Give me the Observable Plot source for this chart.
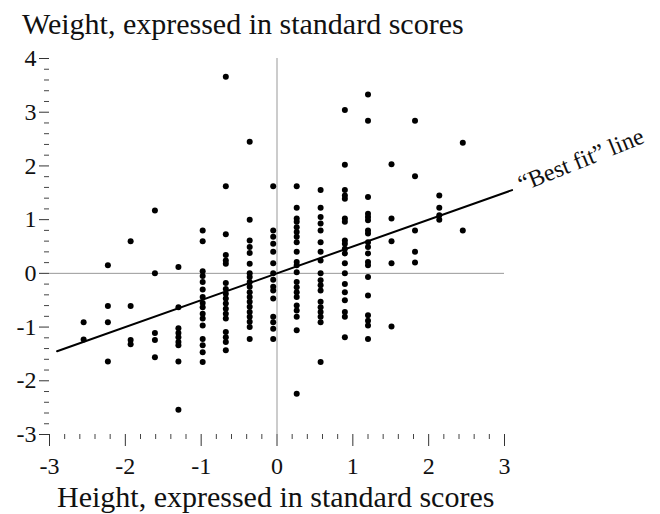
<!DOCTYPE html>
<html><head><meta charset="utf-8">
<script src="https://cdn.jsdelivr.net/npm/d3@7"></script>
<script src="https://cdn.jsdelivr.net/npm/@observablehq/plot@0.6"></script>
<style>
body{margin:0;background:#fff;}
#wrap{width:660px;height:514px;overflow:hidden;font-family:"Liberation Serif","Times New Roman",serif;color:#111;background:#fff;}
#title{height:44px;box-sizing:border-box;padding:9px 0 0 22px;font-size:30px;line-height:30px;white-space:nowrap;}
#xlabel{height:34px;box-sizing:border-box;padding:2px 0 0 57px;font-size:30px;line-height:30px;white-space:nowrap;}
#chart svg{display:block}
</style></head><body>
<div id="wrap">
<div id="title">Weight, expressed in standard scores</div>
<div id="chart"></div>
<div id="xlabel">Height, expressed in standard scores</div>
</div>
<script>
// Height (standard scores) of each column of dots
const heightCols = [-2.55, -2.23, -1.93, -1.61, -1.30, -0.98, -0.675, -0.36, -0.05, 0.26, 0.575, 0.895, 1.20, 1.51, 1.82, 2.14, 2.45];
// Weight (standard scores) of the dots in each column
const weightCols = [
  [-0.91, -1.23],
  [0.15, -0.61, -0.91, -1.64],
  [0.60, -0.61, -1.24, -1.32],
  [1.17, 0.0, -1.11, -1.24, -1.56],
  [0.12, -0.63, -1.02, -1.11, -1.19, -1.28, -1.34, -1.64, -2.54],
  [0.80, 0.60, 0.04, -0.05, -0.16, -0.30, -0.44, -0.55, -0.63, -0.75, -0.84, -0.97, -1.22, -1.34, -1.47, -1.65],
  [3.66, 1.62, 0.73, 0.34, 0.24, 0.18, -0.18, -0.29, -0.38, -0.47, -0.56, -0.66, -0.75, -0.84, -1.09, -1.19, -1.28, -1.43],
  [2.45, 1.0, 0.61, 0.49, 0.38, 0.18, 0.0, -0.07, -0.16, -0.25, -0.35, -0.44, -0.53, -0.62, -0.72, -0.81, -0.90, -1.0, -1.22],
  [1.62, 0.80, 0.68, 0.55, 0.40, 0.19, 0.0, -0.12, -0.25, -0.32, -0.47, -0.81, -0.91, -1.03, -1.22],
  [1.62, 1.22, 1.02, 0.96, 0.86, 0.77, 0.68, 0.58, 0.40, 0.21, 0.15, 0.02, -0.16, -0.26, -0.35, -0.44, -0.60, -0.69, -0.81, -1.06, -2.24],
  [1.55, 1.22, 1.05, 0.93, 0.80, 0.58, 0.40, 0.24, 0.0, -0.13, -0.22, -0.32, -0.53, -0.63, -0.72, -0.81, -0.91, -1.65],
  [3.04, 2.02, 1.55, 1.45, 1.39, 1.02, 0.96, 0.61, 0.55, 0.46, 0.37, 0.19, 0.0, -0.20, -0.35, -0.50, -0.72, -0.81, -1.19],
  [3.33, 2.84, 1.42, 1.11, 1.05, 0.99, 0.80, 0.74, 0.58, 0.49, 0.37, 0.21, 0.15, -0.07, -0.41, -0.78, -0.88, -0.97, -1.22],
  [2.03, 1.02, 0.60, 0.19, -0.99],
  [2.84, 1.81, 0.80, 0.40, 0.20],
  [1.45, 1.22, 1.08, 1.0],
  [2.43, 0.80]
];
// "Best fit" line end points
const fitX = [-2.9, 3.1];
const fitY = [-1.45, 1.55];
const fitLabel = ["\u201cBest fit\u201d line"];
// Tick values
const majorX = [-3, -2, -1, 0, 1, 2, 3];
const majorY = [-3, -2, -1, 0, 1, 2, 3, 4];

const minorX = d3.range(-15, 16).filter(i => i % 5 !== 0).map(i => i / 5);
const minorY = d3.range(-15, 21).filter(i => i % 5 !== 0).map(i => i / 5);

const points = heightCols.flatMap((h, i) => weightCols[i].map(w => ({h, w})));
const fit = fitX.map((x, i) => ({x, y: fitY[i]}));
const fmt = d => d < 0 ? "-" + (-d) : String(d);
const font = "Liberation Serif, Times New Roman, serif";

const chart = Plot.plot({
  width: 660,
  height: 436,
  marginTop: 14,
  marginBottom: 46,
  marginLeft: 49,
  marginRight: 156,
  x: {domain: [-3, 3]},
  y: {domain: [-3, 4]},
  style: {fontFamily: font, background: "#fff", color: "#111", overflow: "visible"},
  marks: [
    Plot.ruleY([0], {x1: -3, x2: 3, stroke: "#999", strokeWidth: 1}),
    Plot.ruleX([0], {y1: -3, y2: 4, stroke: "#999", strokeWidth: 1}),
    Plot.axisX(minorX, {anchor: "bottom", tickSize: 5, text: null, label: null, stroke: "#444"}),
    Plot.axisX(majorX, {anchor: "bottom", tickSize: 12, tickPadding: 10, label: null, tickFormat: fmt, fontSize: 24, fontFamily: font, stroke: "#333"}),
    Plot.axisY(minorY, {anchor: "left", tickSize: 5, text: null, label: null, stroke: "#444"}),
    Plot.axisY(majorY, {anchor: "left", tickSize: 10, tickPadding: 3, label: null, tickFormat: fmt, fontSize: 24, fontFamily: font, stroke: "#333"}),
    Plot.line(fit, {x: "x", y: "y", stroke: "#000", strokeWidth: 2}),
    Plot.dot(points, {x: "h", y: "w", r: 3, fill: "#000"}),
    Plot.text([fit[1]], {x: "x", y: "y", text: () => fitLabel[0], rotate: -22, textAnchor: "start", lineAnchor: "bottom", dx: 10, dy: 2, fontSize: 24, fontFamily: font, fill: "#111"})
  ]
});
document.getElementById("chart").appendChild(chart);
</script>
</body></html>
